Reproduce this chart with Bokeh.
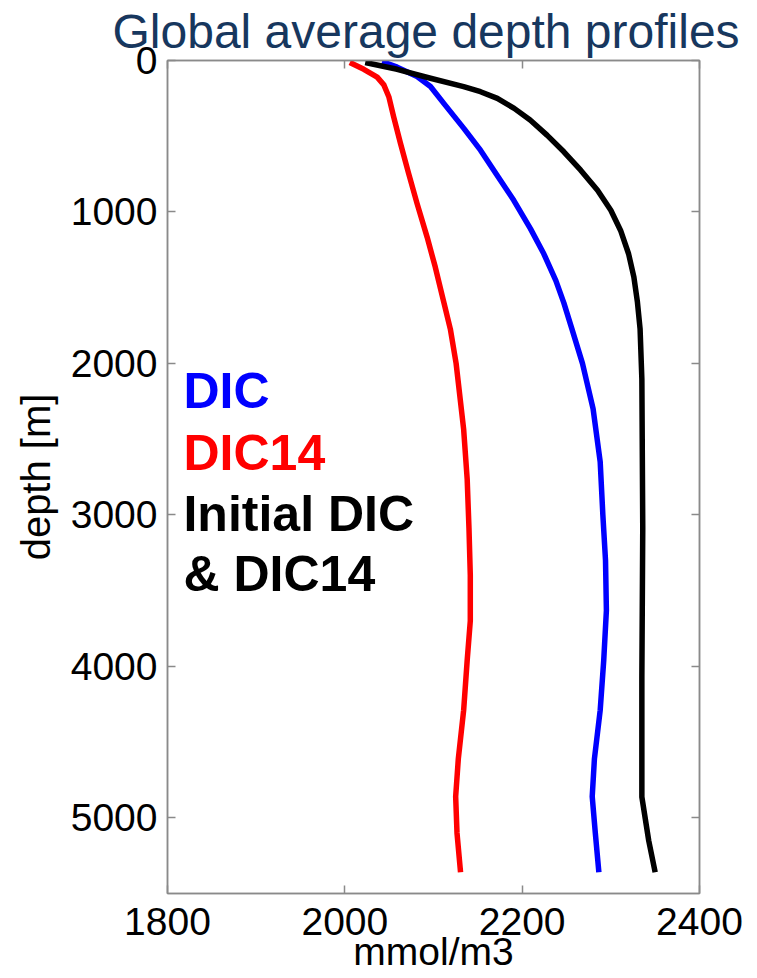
from bokeh.plotting import figure
from bokeh.models import Range1d, LinearAxis, FixedTicker
from bokeh.embed import file_html
from bokeh.resources import INLINE
from bokeh.core.properties import value

# ---- data ----
dic14_depth = [13, 58, 110, 161, 239, 371, 548, 747, 945, 1166, 1364, 1596, 1773, 2000,
               2435, 2766, 3086, 3400, 3700, 3960, 4290, 4610, 4860, 5100, 5360]
dic14 = [2005.6, 2021.4, 2036.5, 2044, 2049.6, 2055, 2062.8, 2072, 2081.5, 2092.8, 2102,
         2111.6, 2119, 2125.5, 2134, 2138, 2140, 2141.5, 2141.5, 2138, 2134, 2128, 2125,
         2126.5, 2130.5]

dic_depth = [7, 44, 106, 172, 283, 448, 592, 757, 923, 1110, 1276, 1453, 1600, 1770, 2000,
             2300, 2650, 3000, 3300, 3630, 3960, 4290, 4610, 4860, 5100, 5360]
dic = [2042, 2059, 2081.5, 2096.6, 2111.6, 2134.2, 2153, 2171.7, 2190.5, 2209.3, 2224.4,
       2238, 2247, 2256, 2268, 2280, 2288, 2291, 2294, 2295, 2292, 2288, 2281.5, 2279,
       2282.5, 2286.5]

init_depth = [13, 58, 117, 172, 206, 250, 316, 393, 493, 603, 724, 857, 989, 1122, 1276,
              1430, 1596, 1773, 2104, 3086, 4069, 4610, 4863, 5150, 5360]
init = [2023, 2059, 2096.6, 2134, 2153, 2172, 2191, 2209, 2228, 2247, 2266, 2285, 2300,
        2311, 2320, 2326, 2330, 2333, 2335, 2336, 2335, 2335, 2335, 2342.7, 2350]

x_ticks = [1800, 2000, 2200, 2400]
y_ticks = [0, 1000, 2000, 3000, 4000, 5000]

legend_texts = ["DIC", "DIC14", "Initial DIC", "& DIC14"]
legend_colors = ["#0000ff", "#ff0000", "#000000", "#000000"]

# ---- layout / style ----
FONT = "Liberation Sans"
GRAY = "#8a8a8a"

p = figure(width=757, height=978, output_backend="svg", toolbar_location=None,
           x_range=Range1d(1800, 2400), y_range=Range1d(5500, 0),
           min_border_left=167, min_border_right=58, min_border_top=0,
           min_border_bottom=85)

bottom_axis = p.xaxis[0]
left_axis = p.yaxis[0]

p.title.text = "Global average depth profiles"
p.title.text_font = FONT
p.title.text_font_size = "48px"
p.title.text_font_style = "normal"
p.title.text_color = "#17375e"
p.title.align = "left"
p.title.offset = -55
p.title.standoff = 5

p.xgrid.visible = False
p.ygrid.visible = False
p.outline_line_color = GRAY
p.outline_line_width = 1.5
p.background_fill_color = "white"
p.border_fill_color = "white"

top_axis = LinearAxis()
right_axis = LinearAxis()
p.add_layout(top_axis, "above")
p.add_layout(right_axis, "right")

for ax, ticks in [(bottom_axis, x_ticks), (top_axis, x_ticks),
                  (left_axis, y_ticks), (right_axis, y_ticks)]:
    ax.ticker = FixedTicker(ticks=ticks)
    ax.axis_line_color = GRAY
    ax.axis_line_width = 1.5
    ax.major_tick_line_color = GRAY
    ax.major_tick_line_width = 1.5
    ax.major_tick_in = 8
    ax.major_tick_out = 0
    ax.minor_tick_line_color = None
    ax.major_label_text_font = FONT
    ax.major_label_text_font_size = "39px"
    ax.major_label_text_color = "black"
    ax.axis_label_text_font = FONT
    ax.axis_label_text_font_style = "normal"
    ax.axis_label_text_color = "black"

top_axis.major_label_overrides = {t: "" for t in x_ticks}
right_axis.major_label_overrides = {t: "" for t in y_ticks}
for ax in (top_axis, right_axis):
    ax.major_label_standoff = 0

bottom_axis.axis_label = "mmol/m3"
bottom_axis.axis_label_text_font_size = "39px"
bottom_axis.major_label_standoff = 14
bottom_axis.axis_label_standoff = -8

left_axis.axis_label = "depth [m]"
left_axis.axis_label_text_font_size = "40px"
left_axis.major_label_standoff = 10
left_axis.axis_label_standoff = 10

# ---- profiles ----
p.line(dic14, dic14_depth, line_color="#ff0000", line_width=5.5, line_join="round")
p.line(dic, dic_depth, line_color="#0000ff", line_width=5.5, line_join="round")
p.line(init, init_depth, line_color="#000000", line_width=5.5, line_join="round")

# ---- in-plot legend text ----
p.text(x=[1818] * 4, y=[2181, 2589, 2993, 3391], text=legend_texts,
       text_color=legend_colors, text_font=value(FONT), text_font_size="50px",
       text_font_style="bold", text_baseline="alphabetic", text_align="left")

open("out.html", "w").write(file_html(p, INLINE))
